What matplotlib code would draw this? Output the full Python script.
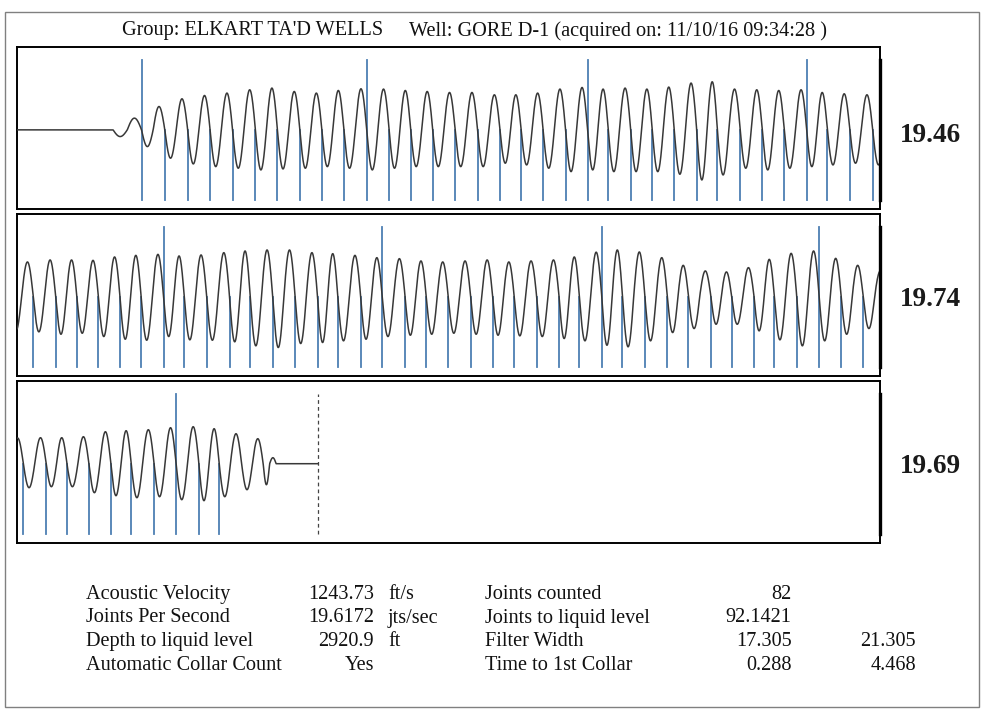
import numpy as np
import matplotlib
matplotlib.use('Agg')
import matplotlib.pyplot as plt
from matplotlib.patches import Rectangle

W, H = 983, 710

title_group = "Group: ELKART TA'D WELLS"
title_well = "Well: GORE D-1 (acquired on: 11/10/16 09:34:28 )"

row_rates = ['19.46', '19.74', '19.69']
row_span = 2.0  # seconds per row

# collar times (s)
collars = [0.288, 0.342, 0.395, 0.447, 0.499, 0.552, 0.603, 0.655, 0.706, 0.757,
           0.810, 0.862, 0.912, 0.963, 1.015, 1.067, 1.119, 1.168, 1.219, 1.271,
           1.322, 1.370, 1.422, 1.472, 1.523, 1.575, 1.623, 1.676, 1.727, 1.778,
           1.830, 1.878, 1.930, 1.983,
           2.037, 2.089, 2.138, 2.188, 2.238, 2.287, 2.339, 2.387, 2.439, 2.492,
           2.540, 2.592, 2.644, 2.696, 2.743, 2.796, 2.846, 2.899, 2.948, 2.999,
           3.051, 3.102, 3.152, 3.204, 3.256, 3.303, 3.355, 3.403, 3.455, 3.507,
           3.556, 3.608, 3.656, 3.708, 3.755, 3.807, 3.859, 3.910, 3.961,
           4.014, 4.067, 4.115, 4.166, 4.217, 4.264, 4.317, 4.368, 4.421, 4.468]
# downward crossings before the first collar and after the last one
lead_in = [0.222]
tail = [4.520, 4.570, 4.600]
liquid_time = 4.697

# trough / peak size of each cycle (lead-in, collars, tail)
troughs = [6.7,
           16.7, 28.3, 34, 36.7, 38.3, 40, 39, 38.3, 36.7, 38.3,
           40, 38.3, 36.7, 36.7, 36.7, 36.7, 33.3, 35, 38.3, 41.7,
           40, 41.7, 41.7, 41.7, 44.3, 50, 45, 38.3, 40, 38.3,
           36.7, 35, 33.3, 35,
           35.3, 37.7, 36.7, 40, 42.7, 43.7, 40, 43.3, 43.7, 45.3,
           49.3, 51, 47, 46, 44.3, 42.7, 40, 38.7, 37.7, 36.7,
           37.7, 38.7, 39.3, 40, 42, 44.3, 48.7, 50.3, 44.3, 36,
           32, 27.7, 27.7, 34.3, 43.3, 49.3, 44.3, 37.7, 32,
           24, 23, 23, 29, 32, 34, 33, 36, 37, 33,
           26, 21]
peaks = [11.7,
         23.3, 31, 34.3, 36.7, 40, 41.7, 38.3, 36.7, 39.3, 41,
         40.7, 39.3, 38.3, 37.3, 37.3, 35, 35, 36.7, 40.7, 42.3,
         40.7, 41.7, 40.7, 42.7, 46.7, 48, 40.7, 40, 39.3, 40,
         37.3, 36, 35, 34.7,
         36.7, 36.7, 36.3, 39.7, 41.3, 42.3, 40.7, 41.7, 44, 45.7,
         46.7, 46.7, 44, 43, 41.3, 39, 38, 35.7, 34.7, 35.7,
         36.7, 34.7, 35.7, 36.7, 39.7, 44.5, 46.7, 44.7, 39, 31.3,
         25.7, 24.7, 29, 37.3, 43.3, 45.7, 38.3, 31.3, 25.7,
         26, 26, 27, 32, 33, 34, 36, 37, 35, 30,
         25, 6]

info_left = [('Acoustic Velocity', '1243.73', 'ft/s'),
             ('Joints Per Second', '19.6172', 'jts/sec'),
             ('Depth to liquid level', '2920.9', 'ft'),
             ('Automatic Collar Count', 'Yes', '')]
info_right = [('Joints counted', '82', ''),
              ('Joints to liquid level', '92.1421', ''),
              ('Filter Width', '17.305', '21.305'),
              ('Time to 1st Collar', '0.288', '4.468')]

# build the trace from the read crossings and amplitudes
cross = np.array(lead_in + collars + tail)
t = np.linspace(0, liquid_time, 24000)
y = np.zeros_like(t)
for i in range(len(cross) - 1):
    s, e = cross[i], cross[i + 1]
    m = (t >= s) & (t < e)
    ph = (t[m] - s) / (e - s)
    sv = -np.sin(2 * np.pi * ph)
    y[m] = np.where(ph < 0.5, sv * troughs[i], sv * peaks[i])

plt.rcParams['font.family'] = ['Liberation Serif', 'DejaVu Serif']
fs = 14.6

fig = plt.figure(figsize=(W / 100, H / 100), dpi=100)

def fx(x):
    return x / W

def fy(yy):
    return 1 - yy / H

fig.patches.append(Rectangle((fx(5), fy(707)), fx(979) - fx(5), fy(12) - fy(707),
                             transform=fig.transFigure, fill=False,
                             edgecolor='#808080', lw=1.0))

fig.text(fx(121.7), fy(31), title_group, fontsize=fs, va='center', ha='left', color='#111111')
fig.text(fx(409), fy(31), title_well, fontsize=fs, va='center', ha='left', color='#111111')

panels = [(46.7, 209), (213.7, 375.5), (380.7, 542.7)]
label_y = [135, 300, 466.5]
wave_col = '#383838'
collar_col = '#4d7fb3'

for r, (top, bot) in enumerate(panels):
    ax = fig.add_axes([fx(17.3), fy(bot), fx(880) - fx(17.3), fy(top) - fy(bot)])
    t0 = r * row_span
    t1 = t0 + row_span
    ax.set_xlim(t0, t1)
    ax.set_ylim(-79, 83)
    for k, c in enumerate(collars):
        if t0 <= c < t1:
            top_y = 70 if k % 10 == 0 else 0
            ax.plot([c, c], [-70, top_y], color=collar_col, lw=1.3, zorder=2)
    m = (t >= t0) & (t <= t1)
    ax.plot(t[m], y[m], color=wave_col, lw=1.1, zorder=3)
    if t0 <= liquid_time < t1:
        ax.plot([liquid_time] * 2, [-70, 70], color='#444444', lw=0.9,
                ls=(0, (3, 2.5)), zorder=2)
    ax.plot([t1, t1], [-70, 70], color='black', lw=2.4, zorder=4, clip_on=False)
    ax.set_xticks([])
    ax.set_yticks([])
    for sp in ax.spines.values():
        sp.set_linewidth(1.4)
        sp.set_color('black')
    fig.text(fx(930), fy(label_y[r]), row_rates[r], fontsize=19.5, fontweight='bold',
             ha='center', va='center', color='#1a1a1a')

rows_y = [594.5, 618, 641.5, 665]
for i, yy in enumerate(rows_y):
    lab, val, unit = info_left[i]
    fig.text(fx(86), fy(yy), lab, fontsize=fs, ha='left', va='center', color='#111111')
    fig.text(fx(374), fy(yy), val, fontsize=fs, ha='right', va='center', color='#111111')
    if unit:
        fig.text(fx(388), fy(yy), unit, fontsize=fs, ha='left', va='center', color='#111111')
    lab, val, extra = info_right[i]
    fig.text(fx(485), fy(yy), lab, fontsize=fs, ha='left', va='center', color='#111111')
    fig.text(fx(791.5), fy(yy), val, fontsize=fs, ha='right', va='center', color='#111111')
    if extra:
        fig.text(fx(916), fy(yy), extra, fontsize=fs, ha='right', va='center', color='#111111')

fig.savefig('out.png', dpi=100)
